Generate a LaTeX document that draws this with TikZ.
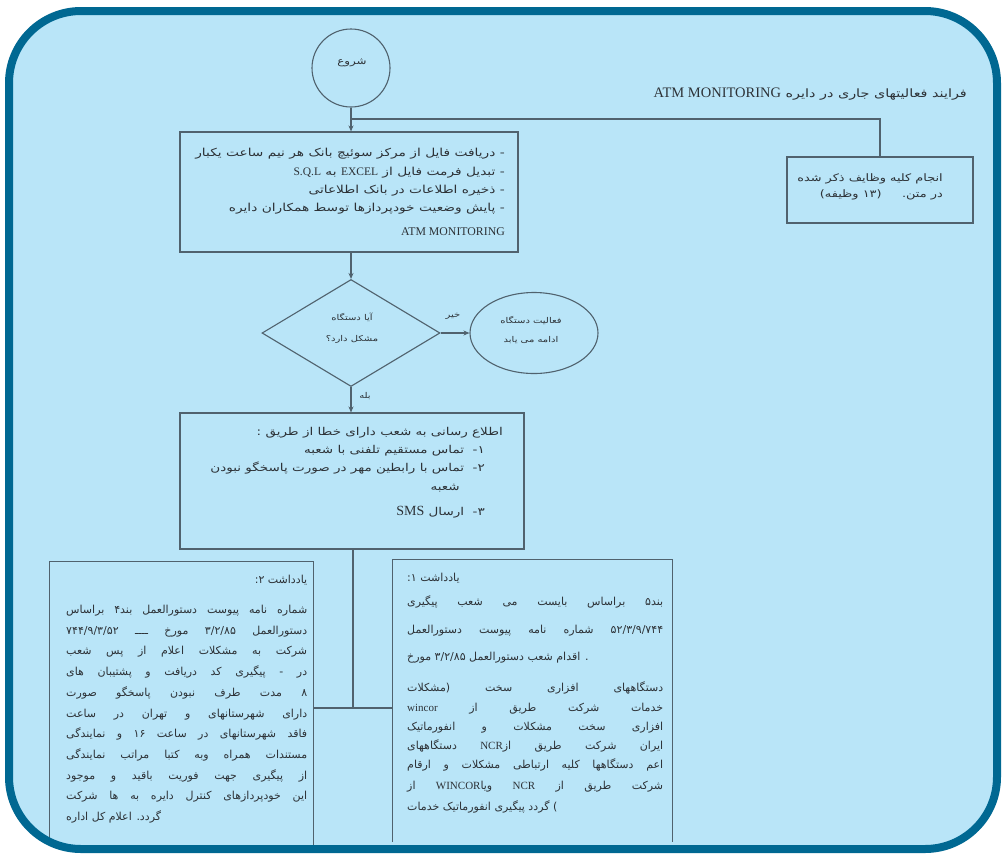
\documentclass[tikz,border=0pt]{standalone}
\usepackage{fontspec}
\usetikzlibrary{shapes.geometric,arrows.meta}
\TeXXeTstate=1
\newfontfamily\fa[Script=Arabic,FakeStretch=1.25]{DejaVu Sans}
\newfontfamily\fan[Script=Arabic]{DejaVu Sans}
\newfontfamily\lat{Liberation Serif}
\definecolor{bgblue}{RGB}{185,229,248}
\definecolor{frameblue}{RGB}{0,104,146}
\definecolor{ink}{RGB}{80,98,110}
\definecolor{txt}{RGB}{45,50,55}
\newcommand\NL[5]{\node[nl,anchor=base west] (#1) at (#2,#3) {\hbox to #4pt{#5}};}
\begin{document}
\begin{tikzpicture}[x=1pt,y=-1pt,
  every node/.style={text=txt,inner sep=0pt},
  nl/.style={font=\fan\fontsize{11}{13}\selectfont},
  bl/.style={font=\fa\fontsize{11}{13}\selectfont,anchor=base east},
  bltwo/.style={font=\fa\fontsize{10.8}{13}\selectfont,anchor=base east},
  blt/.style={font=\fa\fontsize{10.3}{12}\selectfont,anchor=base east},
  sl/.style={font=\fa\fontsize{8}{10}\selectfont},
  box/.style={draw=ink,line width=1.1pt},
  conn/.style={draw=ink,line width=1.1pt},
  arr/.style={conn,-{Stealth[length=6pt,width=5pt]}},
]
\useasboundingbox (0,0) rectangle (1002,855);
\fill[white] (0,0) rectangle (1002,855);
\fill[bgblue, rounded corners=72pt] (9,11) rectangle (997,849);

% start
\node[circle,box,minimum size=78pt] (start) at (351,68) {};
\node[sl,font=\fa\fontsize{9.5}{11}\selectfont] (startt) at (352,63) {\beginR شروع\endR};

% title
\node[anchor=base east,font=\fa\fontsize{11.5}{13}\selectfont] (title) at (967,97)
  {\beginR فرایند فعالیتهای جاری در دایره \beginL{\lat\fontsize{14.5}{16}\selectfont ATM MONITORING}\endL\endR};

% box 1
\node[box,minimum width=338pt,minimum height=120pt] (b1) at (349,192) {};
\node[bl] (b1a) at (505,156) {\beginR - دریافت فایل از مرکز سوئیچ بانک هر نیم ساعت یکبار\endR};
\node[bl] (b1b) at (505,175) {\beginR - تبدیل فرمت فایل از {\lat\fontsize{11.5}{13}\selectfont EXCEL} به {\lat\fontsize{11.5}{13}\selectfont S.Q.L}\endR};
\node[bl] (b1c) at (505,193) {\beginR - ذخیره اطلاعات در بانک اطلاعاتی\endR};
\node[bl] (b1d) at (505,211) {\beginR - پایش وضعیت خودپردازها توسط همکاران دایره\endR};
\node[font=\lat\fontsize{11.8}{13}\selectfont,anchor=base east] (b1e) at (505,235) {ATM MONITORING};

% tasks box
\node[box,minimum width=186pt,minimum height=66pt] (tasks) at (880,190) {};
\node[blt] (t1) at (943,181) {\beginR انجام کلیه وظایف ذکر شده\endR};
\node[blt] (t2) at (943,197) {\beginR در متن.\ \ \ \ \ (۱۳ وظیفه)\endR};

% decision
\node[diamond,box,minimum width=178pt,minimum height=107pt] (dec) at (351,333) {};
\node[sl] (deca) at (352,317) {\beginR آیا دستگاه\endR};
\node[sl] (decb) at (352,339) {\beginR مشکل دارد؟\endR};

% continue ellipse
\node[ellipse,box,minimum width=128pt,minimum height=81pt] (cont) at (534,333) {};
\node[sl] (conta) at (531,320) {\beginR فعالیت دستگاه\endR};
\node[sl] (contb) at (531,340) {\beginR ادامه می یابد\endR};

\node[sl] (no) at (453,316) {\beginR خیر\endR};
\node[sl] (yes) at (365,396) {\beginR بله\endR};

% box 2
\node[box,minimum width=344pt,minimum height=136pt] (b2) at (352,481) {};
\node[bltwo] (b2a) at (503,435) {\beginR اطلاع رسانی به شعب دارای خطا از طریق :\endR};
\node[bltwo] (b2b) at (485,453) {\beginR ۱-\ \ تماس مستقیم تلفنی با شعبه\endR};
\node[bltwo] (b2c) at (485,471) {\beginR ۲-\ \ تماس با رابطین مهر در صورت پاسخگو نبودن\endR};
\node[bltwo] (b2d) at (460,490) {\beginR شعبه\endR};
\node[bltwo] (b2e) at (485,515) {\beginR ۳-\ \ ارسال {\lat\fontsize{14}{16}\selectfont SMS}\endR};

% notes
\node[minimum width=263pt,minimum height=283pt] (n2) at (181.5,703.5) {};
\node[minimum width=279pt,minimum height=282pt] (n1) at (532.5,701) {};
\draw[conn] (n2.south west) -- (n2.north west) -- (n2.north east) -- (n2.south east);
\draw[conn] (n1.south west) -- (n1.north west) -- (n1.north east) -- (n1.south east);

\NL{n2h}{66}{583}{241}{\hfil\beginR یادداشت ۲:\endR}
\NL{n2a}{66}{613}{241}{\beginR شماره نامه پیوست دستورالعمل بند۴ براساس\endR}
\NL{n2b}{66}{634}{241}{\beginR دستورالعمل ۳/۲/۸۵ مورخ ــــ ۷۴۴/۹/۳/۵۲\endR}
\NL{n2c}{66}{654}{241}{\beginR شرکت به مشکلات اعلام از پس شعب\endR}
\NL{n2d}{66}{675}{241}{\beginR در - پیگیری کد دریافت و پشتیبان های\endR}
\NL{n2e}{66}{696}{241}{\beginR ۸ مدت طرف نبودن پاسخگو صورت\endR}
\NL{n2f}{66}{717}{241}{\beginR دارای شهرستانهای و تهران در ساعت\endR}
\NL{n2g}{66}{737}{241}{\beginR فاقد شهرستانهای در ساعت ۱۶ و نمایندگی\endR}
\NL{n2i}{66}{758}{241}{\beginR مستندات همراه وبه کتبا مراتب نمایندگی\endR}
\NL{n2j}{66}{779}{241}{\beginR از پیگیری جهت فوریت باقید و موجود\endR}
\NL{n2k}{66}{799}{241}{\beginR این خودپردازهای کنترل دایره به ها شرکت\endR}
\NL{n2l}{66}{820}{241}{\beginR گردد. اعلام کل اداره\endR\hfil}

\NL{n1h}{407}{581}{256}{\beginR یادداشت ۱:\endR\hfil}
\NL{n1a}{407}{605}{256}{\beginR بند۵ براساس بایست می شعب پیگیری\endR}
\NL{n1b}{407}{633}{256}{\beginR ۵۲/۳/۹/۷۴۴ شماره نامه پیوست دستورالعمل\endR}
\NL{n1c}{407}{660}{256}{\beginR . اقدام شعب دستورالعمل ۳/۲/۸۵ مورخ\endR\hfil}
\NL{n1d}{407}{691}{256}{\beginR دستگاههای افزاری سخت (مشکلات\endR}
\NL{n1e}{407}{711}{256}{\beginR خدمات شرکت طریق از {\lat wincor}\endR}
\NL{n1f}{407}{730}{256}{\beginR افزاری سخت مشکلات و انفورماتیک\endR}
\NL{n1g}{407}{749}{256}{\beginR ایران شرکت طریق از{\lat NCR} دستگاههای\endR}
\NL{n1i}{407}{768}{256}{\beginR اعم دستگاهها کلیه ارتباطی مشکلات و ارقام\endR}
\NL{n1j}{407}{789}{256}{\beginR شرکت طریق از {\lat NCR} ویا{\lat WINCOR} از\endR}
\NL{n1k}{407}{810}{256}{\beginR ) گردد پیگیری انفورماتیک خدمات\endR\hfil}

% connectors
\coordinate (br) at (351,119);
\coordinate (jn) at (353,708);
\draw[arr] (start.south) -- (b1.north -| start.south);
\draw[conn] (br) -| (tasks.north);
\draw[arr] (b1.south -| dec.north) -- (dec.north);
\draw[arr] (dec.east) -- (cont.west);
\draw[arr] (dec.south) -- (dec.south |- b2.north);
\draw[conn] (b2.south -| jn) -- (jn);
\draw[conn] (jn -| n2.east) -- (jn -| n1.west);

% frame on top
\draw[frameblue, line width=8pt, rounded corners=72pt] (9,11) rectangle (997,849);
\end{tikzpicture}
\end{document}
